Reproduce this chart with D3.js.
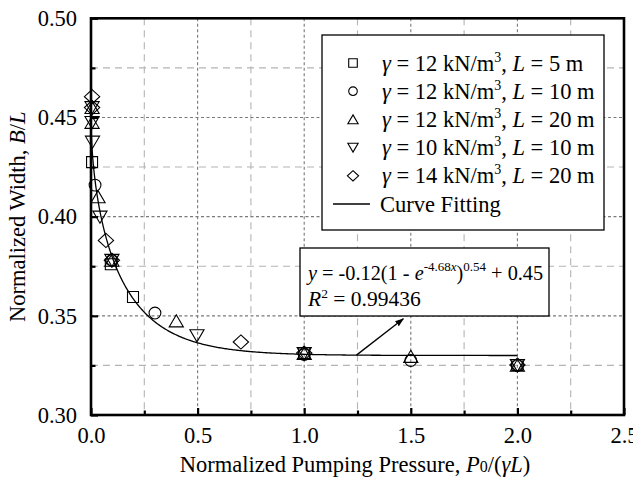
<!DOCTYPE html>
<html>
<head>
<meta charset="utf-8">
<script src="https://cdn.jsdelivr.net/npm/d3@7"></script>
<style>
  html, body { margin: 0; padding: 0; background: #fff; }
  svg { display: block; }
  svg text { font-family: "Liberation Serif", "Tinos", "Times New Roman", "DejaVu Serif", serif; }
</style>
</head>
<body>
<svg id="chart" width="633" height="479"></svg>
<script>
// ---- data ----
const xMajorTicks = [0, 0.5, 1.0, 1.5, 2.0, 2.5];
const xMinorTicks = [0.25, 0.75, 1.25, 1.75, 2.25];
const yMajorTicks = [0.30, 0.35, 0.40, 0.45, 0.50];
const yMinorTicks = [0.325, 0.375, 0.425, 0.475];

// gamma = 12 kN/m3, L = 5 m
const sqX = [0.005, 0.093, 0.197, 1.0, 2.0];
const sqY = [0.4275, 0.376, 0.3595, 0.3312, 0.3252];
// gamma = 12 kN/m3, L = 10 m
const ciX = [0.019, 0.098, 0.300, 1.0, 1.5, 2.0];
const ciY = [0.4159, 0.378, 0.3514, 0.3305, 0.3275, 0.3250];
// gamma = 12 kN/m3, L = 20 m
const upX = [0.005, 0.005, 0.033, 0.098, 0.400, 1.0, 1.5, 2.0];
const upY = [0.455, 0.4475, 0.410, 0.378, 0.3474, 0.331, 0.3295, 0.325];
// gamma = 10 kN/m3, L = 10 m
const dnX = [0.005, 0.005, 0.007, 0.042, 0.098, 0.497, 1.0, 2.0];
const dnY = [0.455, 0.4475, 0.4376, 0.3998, 0.378, 0.340, 0.331, 0.325];
// gamma = 14 kN/m3, L = 20 m
const diX = [0.005, 0.005, 0.070, 0.098, 0.703, 1.0, 2.0];
const diY = [0.4605, 0.455, 0.388, 0.378, 0.3368, 0.3312, 0.3252];

// fitted curve y = a(1 - e^(b x))^c + d
const fitA = -0.12, fitB = -4.68, fitC = 0.54, fitD = 0.45;
const fitR2 = 0.99436;
const fitRange = [0, 2.0];

const legendGamma = [12, 12, 12, 10, 14];
const legendL = [5, 10, 20, 10, 20];

// ---- layout ----
const plot = { left: 91, right: 624, top: 18.3, bottom: 415 };
const FONT = "'Liberation Serif', Tinos, 'Times New Roman', 'DejaVu Serif', serif";
const FS = "22.5px";

const svg = d3.select("#chart");
const x = d3.scaleLinear().domain([0, 2.5]).range([plot.left, plot.right]);
const y = d3.scaleLinear().domain([0.30, 0.50]).range([plot.bottom, plot.top]);

// plain hyphen-minus for negative numbers
const locale = d3.formatLocale({ decimal: ".", thousands: ",", grouping: [3], currency: ["", ""], minus: "-" });
const fmt1 = locale.format(".1f"), fmt2 = locale.format(".2f");

// ---- grid ----
const grid = svg.append("g");
function gridLines(vals, vertical, color, dash) {
  grid.append("g").selectAll("line").data(vals).join("line")
    .attr("x1", d => vertical ? x(d) : plot.left).attr("x2", d => vertical ? x(d) : plot.right)
    .attr("y1", d => vertical ? plot.top : y(d)).attr("y2", d => vertical ? plot.bottom : y(d))
    .attr("stroke", color).attr("stroke-width", 1.1).attr("stroke-dasharray", dash);
}
gridLines(xMinorTicks, true, "#b4b4b4", "7,5");
gridLines(yMinorTicks, false, "#b4b4b4", "7,5");
gridLines(xMajorTicks.slice(1, -1), true, "#7a7a7a", "3,2.5");
gridLines(yMajorTicks.slice(1, -1), false, "#7a7a7a", "3,2.5");

// ---- fitted curve ----
const fit = v => fitA * Math.pow(1 - Math.exp(fitB * v), fitC) + fitD;
const curvePts = d3.range(0, 401).map(i => {
  const t = i / 400;
  const xv = fitRange[0] + (fitRange[1] - fitRange[0]) * Math.pow(t, 2.2);
  return [xv, fit(xv)];
});
const line = d3.line().x(d => x(d[0])).y(d => y(d[1]));
svg.append("path").datum(curvePts).attr("d", line)
  .attr("fill", "none").attr("stroke", "#000").attr("stroke-width", 1.3);

// ---- marker shapes ----
function shapePath(kind, s) {
  switch (kind) {
    case "square": return `M${-s},${-s}H${s}V${s}H${-s}Z`;
    case "circle": return `M${s},0A${s},${s} 0 1,1 ${-s},0A${s},${s} 0 1,1 ${s},0Z`;
    case "up": return `M0,${-s * 1.05}L${s * 1.2},${s * 1.0}L${-s * 1.2},${s * 1.0}Z`;
    case "down": return `M0,${s * 1.05}L${s * 1.2},${-s * 1.0}L${-s * 1.2},${-s * 1.0}Z`;
    case "diamond": return `M0,${-s * 1.2}L${s * 1.3},0L0,${s * 1.2}L${-s * 1.3},0Z`;
  }
}

const series = [
  { kind: "square", xs: sqX, ys: sqY, size: 5.5 },
  { kind: "circle", xs: ciX, ys: ciY, size: 5.9 },
  { kind: "up", xs: upX, ys: upY, size: 5.9 },
  { kind: "down", xs: dnX, ys: dnY, size: 5.9 },
  { kind: "diamond", xs: diX, ys: diY, size: 5.9 }
];

series.forEach(s => {
  svg.append("g").selectAll("path").data(s.xs.map((v, i) => [v, s.ys[i]])).join("path")
    .attr("transform", d => `translate(${x(d[0])},${y(d[1])})`)
    .attr("d", shapePath(s.kind, s.size))
    .attr("fill", "none").attr("stroke", "#000").attr("stroke-width", 1.1);
});

// ---- axes frame and ticks ----
const axisG = svg.append("g");
const xAxis = d3.axisBottom(x).tickValues(xMajorTicks).tickFormat(fmt1)
  .tickSizeInner(-7).tickSizeOuter(0).tickPadding(12);
const xAxisMinor = d3.axisBottom(x).tickValues(xMinorTicks).tickFormat("")
  .tickSizeInner(-4.5).tickSizeOuter(0);
const yAxis = d3.axisLeft(y).tickValues(yMajorTicks).tickFormat(fmt2)
  .tickSizeInner(-7).tickSizeOuter(0).tickPadding(14);
const yAxisMinor = d3.axisLeft(y).tickValues(yMinorTicks).tickFormat("")
  .tickSizeInner(-4.5).tickSizeOuter(0);

function styleAxis(g) {
  g.attr("font-family", null).attr("font-size", null);
  g.select(".domain").remove();
  g.selectAll(".tick line").attr("stroke", "#000").attr("stroke-width", 2.2);
  g.selectAll(".tick text").attr("fill", "#000")
    .attr("font-family", FONT).style("font-size", FS);
}
axisG.append("g").attr("transform", `translate(0,${plot.bottom})`).call(xAxis).call(styleAxis);
axisG.append("g").attr("transform", `translate(0,${plot.bottom})`).call(xAxisMinor).call(styleAxis);
axisG.append("g").attr("transform", `translate(${plot.left},0)`).call(yAxis).call(styleAxis);
axisG.append("g").attr("transform", `translate(${plot.left},0)`).call(yAxisMinor).call(styleAxis);

svg.append("rect")
  .attr("x", plot.left).attr("y", plot.top)
  .attr("width", plot.right - plot.left).attr("height", plot.bottom - plot.top)
  .attr("fill", "none").attr("stroke", "#000").attr("stroke-width", 2.6);

// ---- axis titles ----
const xTitle = svg.append("text")
  .attr("x", 355).attr("y", 472)
  .attr("text-anchor", "middle").style("font-size", FS);
xTitle.append("tspan").text("Normalized Pumping Pressure, ");
xTitle.append("tspan").style("font-style", "italic").text("P");
xTitle.append("tspan").style("font-size", "16px").text("0");
xTitle.append("tspan").text("/(");
xTitle.append("tspan").style("font-style", "italic").text("γL");
xTitle.append("tspan").text(")");

const yTitle = svg.append("text")
  .attr("transform", `translate(25,${(plot.top + plot.bottom) / 2}) rotate(-90)`)
  .attr("text-anchor", "middle").style("font-size", FS);
yTitle.append("tspan").text("Normalized Width, ");
yTitle.append("tspan").style("font-style", "italic").text("B");
yTitle.append("tspan").text("/");
yTitle.append("tspan").style("font-style", "italic").text("L");

// ---- legend ----
const leg = { x: 322, y: 35, w: 282, h: 195, rowH: 28.2, first: 63 };
svg.append("rect").attr("x", leg.x).attr("y", leg.y).attr("width", leg.w).attr("height", leg.h)
  .attr("fill", "#fff").attr("stroke", "#000").attr("stroke-width", 1.3);

series.forEach((s, i) => {
  const cy = leg.first + i * leg.rowH;
  svg.append("path").attr("transform", `translate(353,${cy})`)
    .attr("d", shapePath(s.kind, 4.3))
    .attr("fill", "none").attr("stroke", "#000").attr("stroke-width", 1.1);
  const t = svg.append("text").attr("x", 382).attr("y", cy + 7.5).style("font-size", FS);
  t.append("tspan").style("font-style", "italic").text("γ");
  t.append("tspan").text(` = ${legendGamma[i]} kN/m`);
  t.append("tspan").attr("dy", -9).style("font-size", "14px").text("3");
  t.append("tspan").attr("dy", 9).text(", ");
  t.append("tspan").style("font-style", "italic").text("L");
  t.append("tspan").text(` = ${legendL[i]} m`);
});
{
  const cy = leg.first + 5 * leg.rowH;
  svg.append("line").attr("x1", 333).attr("x2", 370).attr("y1", cy).attr("y2", cy)
    .attr("stroke", "#000").attr("stroke-width", 1.3);
  svg.append("text").attr("x", 380).attr("y", cy + 7.5).style("font-size", FS).text("Curve Fitting");
}

// ---- equation annotation ----
const eqBox = { x: 300, y: 248, w: 249, h: 68 };
const arrowFrom = 1.245, arrowTo = [1.465, 0.3485];
svg.append("defs").append("marker")
  .attr("id", "arrowhead").attr("viewBox", "0 0 10 10").attr("refX", 9).attr("refY", 5)
  .attr("markerWidth", 9).attr("markerHeight", 9).attr("markerUnits", "userSpaceOnUse")
  .attr("orient", "auto")
  .append("path").attr("d", "M0,1.5L10,5L0,8.5Z").attr("fill", "#000");
svg.append("line")
  .attr("x1", x(arrowFrom)).attr("y1", y(fit(arrowFrom)))
  .attr("x2", x(arrowTo[0])).attr("y2", y(arrowTo[1]))
  .attr("stroke", "#000").attr("stroke-width", 1.3).attr("marker-end", "url(#arrowhead)");

svg.append("rect").attr("x", eqBox.x).attr("y", eqBox.y).attr("width", eqBox.w).attr("height", eqBox.h)
  .attr("fill", "#fff").attr("stroke", "#000").attr("stroke-width", 1.3);

const eq = svg.append("text").attr("x", 308).attr("y", 280).style("font-size", "20.3px");
eq.append("tspan").style("font-style", "italic").text("y");
eq.append("tspan").text(` = ${fmt2(fitA)}(1 - `);
eq.append("tspan").style("font-style", "italic").text("e");
eq.append("tspan").attr("dy", -9).style("font-size", "13px").text(`${fmt2(fitB)}`);
eq.append("tspan").style("font-size", "13px").style("font-style", "italic").text("x");
eq.append("tspan").attr("dy", 9).text(")");
eq.append("tspan").attr("dy", -9).style("font-size", "13px").text(`${fmt2(fitC)}`);
eq.append("tspan").attr("dy", 9).text(` + ${fmt2(fitD)}`);

const r2 = svg.append("text").attr("x", 308).attr("y", 306).style("font-size", "21.5px");
r2.append("tspan").style("font-style", "italic").text("R");
r2.append("tspan").attr("dy", -8).style("font-size", "13.5px").text("2");
r2.append("tspan").attr("dy", 8).text(` = ${fitR2}`);
</script>
</body>
</html>
